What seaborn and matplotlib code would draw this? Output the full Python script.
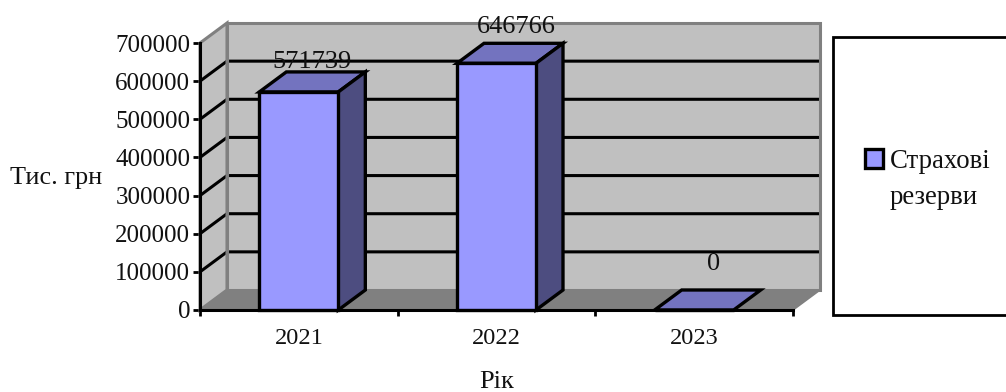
import matplotlib
matplotlib.use("Agg")
import matplotlib.pyplot as plt
from matplotlib.patches import Polygon, Rectangle, Patch
import pandas as pd
import seaborn as sns

years = ["2021", "2022", "2023"]
reserves = [571739, 646766, 0]
y_ticks = [0, 100000, 200000, 300000, 400000, 500000, 600000, 700000]
series_lines = ["Страхові", "резерви"]

W, H = 1006, 392
sns.set_theme(style="white")
plt.rcParams["font.family"] = ["Liberation Serif", "DejaVu Serif"]
plt.rcParams["text.color"] = "#111111"

fig = plt.figure(figsize=(W / 100, H / 100), dpi=100)
# Front plane of the pseudo-3D box, in pixels: x 200..793, y 43..310
ax = fig.add_axes([200 / W, 1 - 310 / H, 593 / W, 267 / H])

df = pd.DataFrame({"year": years, "value": reserves})
BAR_W = 79 / 197.7
FRONT, TOP, SIDE = "#9999FF", "#7373BF", "#4D4D80"
sns.barplot(data=df, x="year", y="value", color=FRONT, saturation=1, width=BAR_W,
            edgecolor="black", linewidth=2.4, ax=ax, zorder=6, clip_on=False)
for p in ax.patches:
    p.set_clip_on(False)

ax.set_xlim(-0.5, 2.5)
ax.set_ylim(0, 700000)

# Depth of the box expressed in data units
DX = 27 / (593 / 3)
DY = 20 / (267 / 700000)

x0, x1 = -0.5, 2.5
ymax = 700000
def poly(pts, **kw):
    kw.setdefault("clip_on", False)
    ax.add_patch(Polygon(pts, closed=True, **kw))

# Walls and floor
back = [(x0 + DX, DY), (x1 + DX, DY), (x1 + DX, ymax + DY), (x0 + DX, ymax + DY)]
side = [(x0, 0), (x0 + DX, DY), (x0 + DX, ymax + DY), (x0, ymax)]
poly(back, facecolor="#C0C0C0", edgecolor="none", zorder=1)
poly(side, facecolor="#C0C0C0", edgecolor="none", zorder=1)
poly([(x0, 0), (x1, 0), (x1 + DX, DY), (x0 + DX, DY)],
     facecolor="#808080", edgecolor="#808080", linewidth=1.2, zorder=2)

# Gridlines wrapping around the back and side walls
for v in y_ticks[1:-1]:
    ax.plot([x0, x0 + DX, x1 + DX], [v, v + DY, v + DY], color="black", lw=2.2,
            clip_on=False, zorder=3, solid_joinstyle="miter")

# Wall outlines sit above the gridline ends
poly(back, facecolor="none", edgecolor="#808080", linewidth=2.2, zorder=4, joinstyle="miter")
poly(side, facecolor="none", edgecolor="#808080", linewidth=2.2, zorder=4, joinstyle="miter")

# Top and side faces of each column, with the value labels
label_shift_px = [(13, 4), (20, 10), (19, 20)]
for i, v in enumerate(reserves):
    l, r = i - BAR_W / 2, i + BAR_W / 2
    poly([(l, v), (r, v), (r + DX, v + DY), (l + DX, v + DY)],
         facecolor=TOP, edgecolor="black", linewidth=2.4, zorder=5, joinstyle="miter")
    if v > 0:
        poly([(r, 0), (r + DX, DY), (r + DX, v + DY), (r, v)],
             facecolor=SIDE, edgecolor="black", linewidth=2.4, zorder=5, joinstyle="miter")
    sx, sy = label_shift_px[i]
    ax.annotate(str(v), xy=(i, v + DY), xytext=(sx * 0.72, sy * 0.72),
                textcoords="offset points", ha="center", va="baseline",
                fontsize=19, zorder=8, annotation_clip=False)

# Axes, ticks and labels
sns.despine(ax=ax, top=True, right=True)
for s in ("left", "bottom"):
    ax.spines[s].set_color("black")
    ax.spines[s].set_linewidth(2.2)
    ax.spines[s].set_zorder(7)
ax.set_yticks(y_ticks)
ax.set_xticks([0, 1, 2], years)
ax.set_xticks([-0.5, 0.5, 1.5, 2.5], minor=True)
ax.tick_params(axis="y", left=True, length=5, width=2, color="black", labelsize=18,
               pad=2, labelcolor="#111111")
ax.tick_params(axis="x", which="major", bottom=False, length=0, labelsize=17.6, pad=13,
               labelcolor="#111111")
ax.tick_params(axis="x", which="minor", bottom=True, length=4, width=2, color="black")
ax.set_xlabel("Рік", fontsize=19, labelpad=16, color="#111111")
ax.set_ylabel("")
fig.text(56 / W, 1 - 178 / H, "Тис. грн", fontsize=18.8, ha="center", va="center")

# Legend panel running off the right side of the canvas
fig.add_artist(Rectangle((833 / W, 1 - 315 / H), 180 / W, 278 / H, transform=fig.transFigure,
                         facecolor="white", edgecolor="black", linewidth=2))
handles = [Patch(facecolor=FRONT, edgecolor="black", linewidth=2.4),
           Patch(facecolor="none", edgecolor="none")]
leg = fig.legend(handles, series_lines, loc="upper left",
                 bbox_to_anchor=(865 / W, 1 - 149 / H), frameon=False, fontsize=19.3,
                 handlelength=0.68, handleheight=0.68, handletextpad=0.23,
                 labelspacing=0.42, borderpad=0, borderaxespad=0)
leg.set_zorder(10)

fig.savefig("out.png", dpi=100, facecolor="white")
